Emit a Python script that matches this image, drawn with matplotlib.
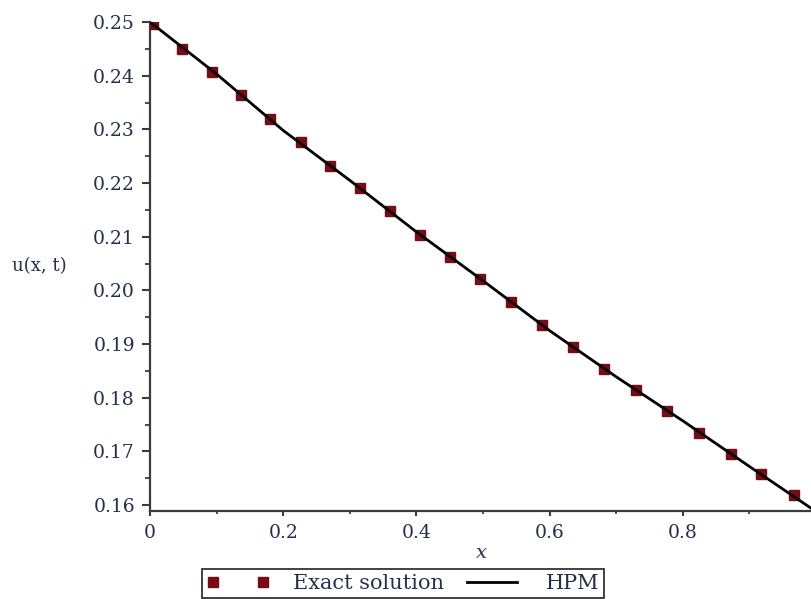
import numpy as np
import matplotlib
matplotlib.use('Agg')
import matplotlib.pyplot as plt
from matplotlib.ticker import MultipleLocator, FixedLocator

# Exact solution sample points
x_exact = [0.004, 0.048, 0.093, 0.136, 0.180, 0.226, 0.271, 0.315, 0.360, 0.405, 0.451,
           0.496, 0.542, 0.588, 0.635, 0.681, 0.729, 0.777, 0.824, 0.872, 0.918, 0.967]
u_exact = [0.2496, 0.2450, 0.2407, 0.2364, 0.2320, 0.2276, 0.2231, 0.2191, 0.2148, 0.2104, 0.2063,
           0.2021, 0.1979, 0.1936, 0.1895, 0.1854, 0.1815, 0.1776, 0.1734, 0.1695, 0.1657, 0.1619]

# HPM approximation
x_hpm = [0.0, 0.1, 0.2, 0.3, 0.4, 0.5, 0.6, 0.7, 0.8, 0.9, 1.0]
u_hpm = [0.2500, 0.2403, 0.2298, 0.2205, 0.2109, 0.2018, 0.1925, 0.1839, 0.1757, 0.1672, 0.1588]

xticks = [0, 0.2, 0.4, 0.6, 0.8, 1]
xticklabels = ['0', '0.2', '0.4', '0.6', '0.8', '1']
yticks = [0.16, 0.17, 0.18, 0.19, 0.20, 0.21, 0.22, 0.23, 0.24, 0.25]
yticklabels = ['0.16', '0.17', '0.18', '0.19', '0.20', '0.21', '0.22', '0.23', '0.24', '0.25']

plt.rcParams['font.family'] = 'DejaVu Serif'

W, H = 812, 599
px = 72/100.  # points per pixel at dpi 100
fig = plt.figure(figsize=(W/100, H/100), dpi=100)
# axes box in pixels: left 150, right 816, top 22, bottom 511
ax = fig.add_axes([150/W, 1-511/H, (816-150)/W, (511-22)/H])

txtcol = '#22304f'
axcol = '#3c3c3c'

ax.plot(x_exact, u_exact, linestyle='none', marker='s', markersize=7,
        color='#7a0a14', label='Exact solution', zorder=3)
ax.plot(x_hpm, u_hpm, color='black', linewidth=2, label='HPM', zorder=4)

ax.set_xlim(0, 1)
ax.set_ylim(0.1589, 0.25)

for s in ['top', 'right']:
	ax.spines[s].set_visible(False)
for s in ['left', 'bottom']:
	ax.spines[s].set_color(axcol)
	ax.spines[s].set_linewidth(1.6)

ax.xaxis.set_major_locator(FixedLocator(xticks))
ax.set_xticklabels(xticklabels)
ax.xaxis.set_minor_locator(MultipleLocator(0.1))
ax.yaxis.set_major_locator(FixedLocator(yticks))
ax.set_yticklabels(yticklabels)
ax.yaxis.set_minor_locator(MultipleLocator(0.005))

ax.tick_params(axis='x', which='major', direction='out', length=5*px, width=1.5, color=axcol,
               labelsize=13.5, labelcolor=txtcol, pad=8*px)
ax.tick_params(axis='x', which='minor', direction='out', length=3*px, width=1.3, color=axcol)
ax.tick_params(axis='y', which='major', direction='out', length=8*px, width=1.5, color=axcol,
               labelsize=13.5, labelcolor=txtcol, pad=7*px)
ax.tick_params(axis='y', which='minor', direction='out', length=5*px, width=1.3, color=axcol)

ax.set_xlabel('x', fontsize=14, style='italic', color=txtcol, va='center')
ax.xaxis.set_label_coords(0.498, -42/489)
ax.set_ylabel('u(x, t)', fontsize=13, color=txtcol, rotation=0, ha='center', va='center')
ax.yaxis.set_label_coords(-111/666, 0.5)

leg = fig.legend(loc='upper left', bbox_to_anchor=(202/W, 1-569/H), ncol=2,
                 frameon=True, fancybox=False, edgecolor='black', fontsize=15,
                 numpoints=2, handlelength=3.0, columnspacing=0.8, handletextpad=1.1,
                 borderaxespad=0, borderpad=0.25)
leg.get_frame().set_linewidth(1.3)
for t in leg.get_texts():
	t.set_color(txtcol)

fig.savefig('out.png', dpi=100)
